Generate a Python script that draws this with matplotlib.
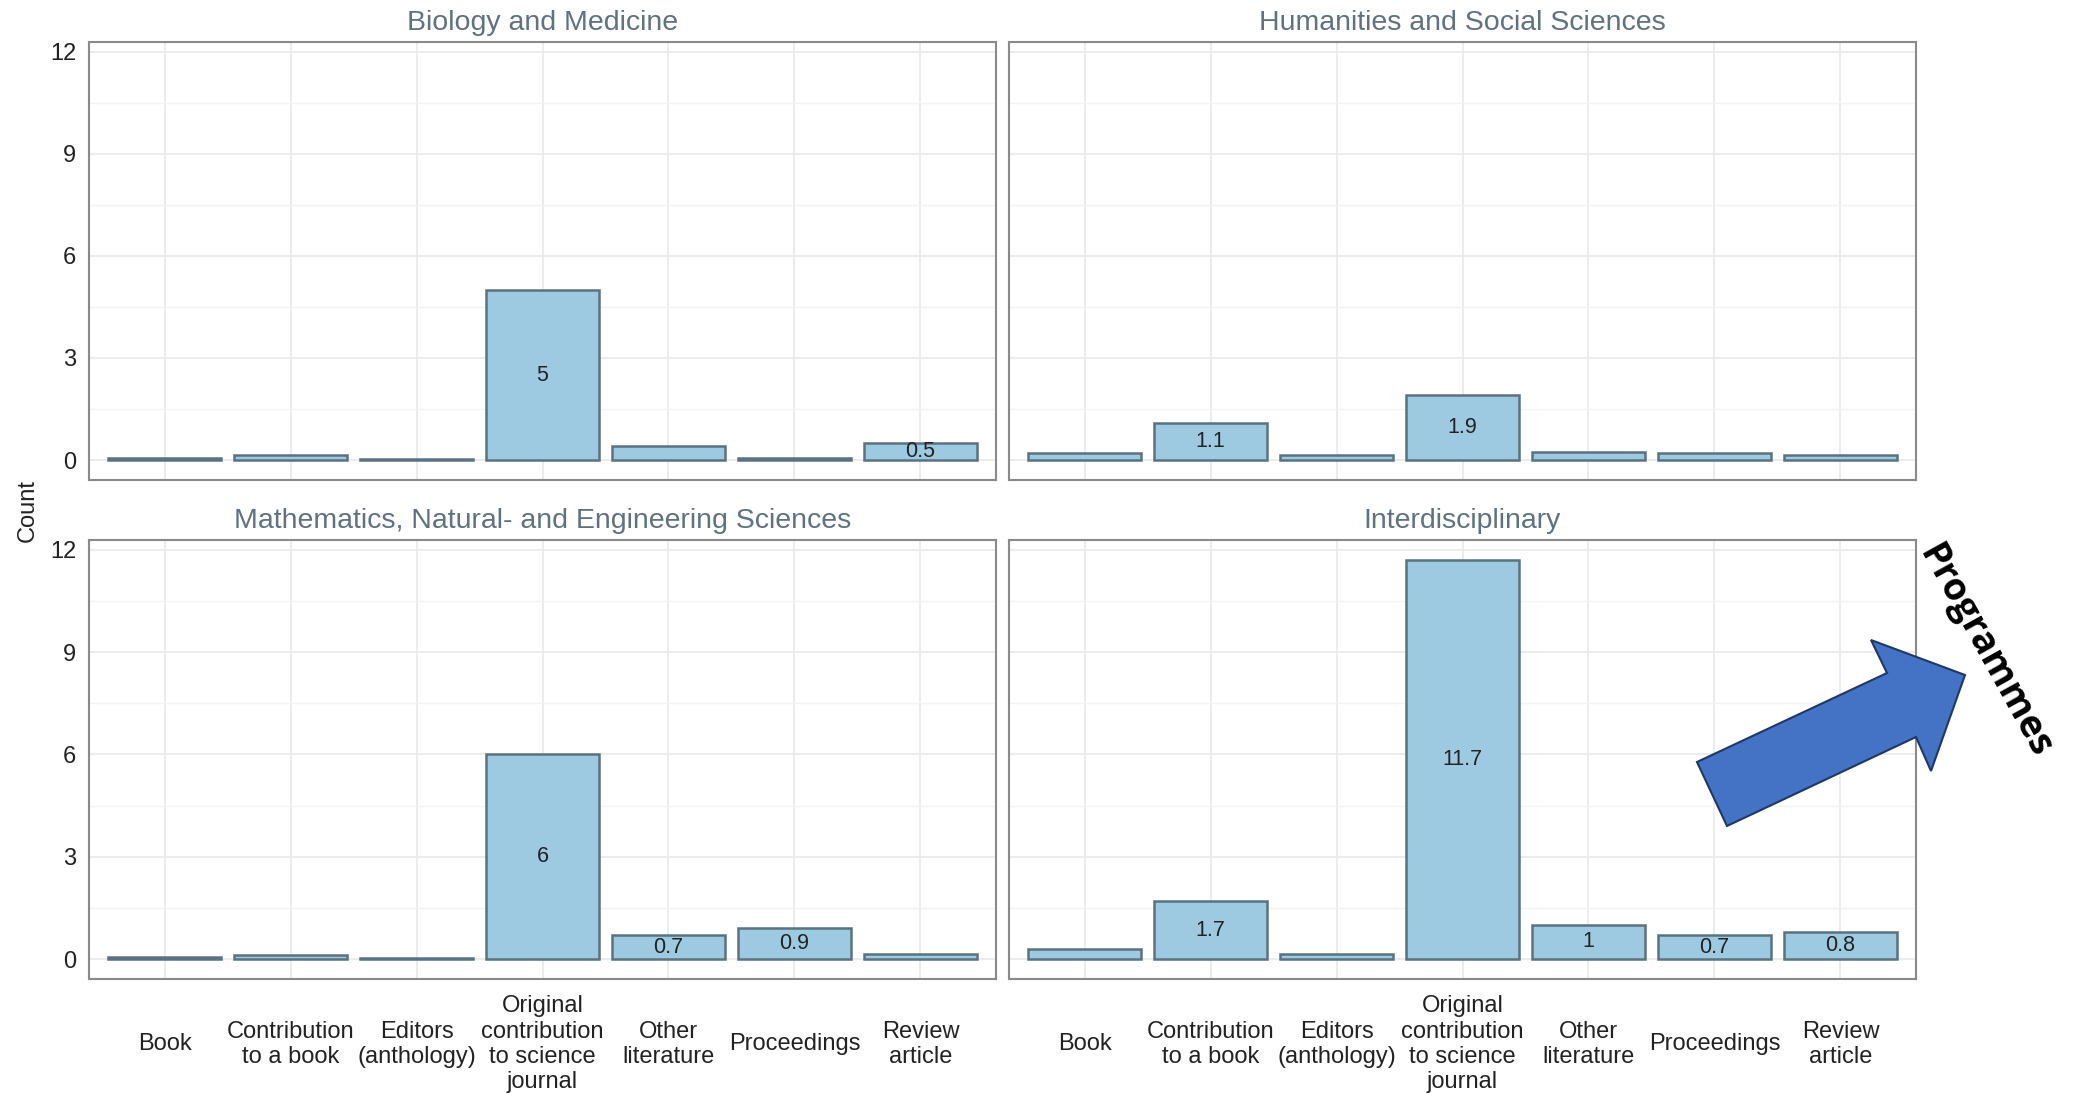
import matplotlib
matplotlib.use("Agg")
import matplotlib.pyplot as plt
from matplotlib.patches import Polygon
import numpy as np

plt.rcParams['font.family'] = ['Liberation Sans', 'DejaVu Sans']

categories = ["Book", "Contribution\nto a book", "Editors\n(anthology)",
              "Original\ncontribution\nto science\njournal", "Other\nliterature",
              "Proceedings", "Review\narticle"]

panel_titles = ["Biology and Medicine", "Humanities and Social Sciences",
                "Mathematics, Natural- and Engineering Sciences", "Interdisciplinary"]

bio_med = [0.05, 0.15, 0.02, 5.0, 0.4, 0.06, 0.5]
hum_soc = [0.2, 1.1, 0.15, 1.9, 0.25, 0.22, 0.15]
math_nat = [0.05, 0.13, 0.03, 6.0, 0.7, 0.9, 0.15]
interdisc = [0.3, 1.7, 0.15, 11.7, 1.0, 0.7, 0.8]

panel_values = [bio_med, hum_soc, math_nat, interdisc]

W, H = 2080, 1094
fig = plt.figure(figsize=(W / 100, H / 100), dpi=100)

# panel boxes in pixels: left, top, right, bottom
boxes = [(89, 42, 996, 480), (1009, 42, 1916, 480),
         (89, 540, 996, 979), (1009, 540, 1916, 979)]

fill_col = '#9ecae1'
edge_col = '#5a7282'
title_col = '#5f7280'

x = np.arange(1, len(categories) + 1)

for i, (vals, title, b) in enumerate(zip(panel_values, panel_titles, boxes)):
    l, t, r, btm = b
    ax = fig.add_axes([l / W, 1 - btm / H, (r - l) / W, (btm - t) / H])
    ax.bar(x, vals, width=0.9, color=fill_col, edgecolor=edge_col, linewidth=1.8, zorder=3)
    for xi, v in zip(x, vals):
        if v >= 0.5:
            ax.text(xi, v / 2, f"{v:g}", ha='center', va='center', fontsize=15.5,
                    color='#222222', zorder=4)
    ax.set_xlim(0.4, 7.6)
    ax.set_ylim(-0.585, 12.285)
    ax.set_yticks([0, 3, 6, 9, 12])
    ax.set_yticks([1.5, 4.5, 7.5, 10.5], minor=True)
    ax.set_xticks(x)
    ax.grid(which='major', color='#ebebeb', linewidth=1.3, zorder=0)
    ax.grid(which='minor', axis='y', color='#f3f3f3', linewidth=1.0, zorder=0)
    ax.tick_params(which='both', length=0)
    ax.tick_params(axis='y', pad=9, labelsize=17, labelcolor='#222222')
    for s in ax.spines.values():
        s.set_color('#8a8a8a')
        s.set_linewidth(1.5)
    if i >= 2:
        ax.set_xticklabels(categories, va='center', fontsize=17, linespacing=1.2,
                           color='#222222')
        ax.tick_params(axis='x', pad=47)
    else:
        ax.set_xticklabels([])
    if i % 2 == 1:
        ax.set_yticklabels([])
    ax.annotate(title, xy=(0.5, 1), xycoords='axes fraction', xytext=(0, 14),
                textcoords='offset points', ha='center', va='center',
                fontsize=20.5, color=title_col)

fig.text(28 / W, 1 - 510 / H, "Count", rotation=90, ha='center', va='center',
         fontsize=17, color='#222222')

# block arrow pointing to the side label
arrow_px = [(1727, 826), (1697, 762), (1887, 673), (1871, 640),
            (1965, 675), (1931, 771), (1916, 737)]
arrow = Polygon([(px / W, 1 - py / H) for px, py in arrow_px], closed=True,
                transform=fig.transFigure, facecolor='#4472c4', edgecolor='#1f3864',
                linewidth=1.5, zorder=10)
fig.patches.append(arrow)

fig.text(1985 / W, 1 - 652 / H, "Programmes", rotation=-61, ha='center', va='center',
         fontsize=27, fontweight='bold', family=['Open Sans', 'DejaVu Sans'],
         color='black', rotation_mode='anchor')

fig.savefig("out.png", dpi=100)
